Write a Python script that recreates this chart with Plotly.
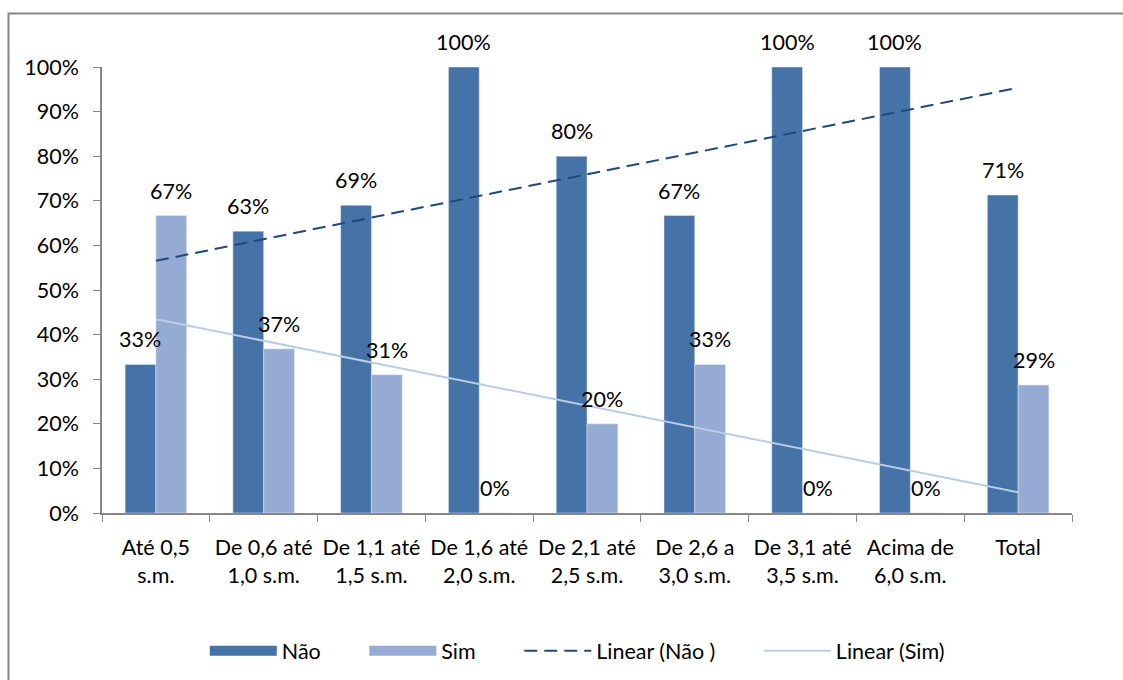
import numpy as np
import plotly.graph_objects as go

# Faixas de renda e percentuais por resposta
categorias = [
    "Até 0,5<br>s.m.",
    "De 0,6 até<br>1,0 s.m.",
    "De 1,1 até<br>1,5 s.m.",
    "De 1,6 até<br>2,0 s.m.",
    "De 2,1 até<br>2,5 s.m.",
    "De 2,6 a<br>3,0 s.m.",
    "De 3,1 até<br>3,5 s.m.",
    "Acima de<br>6,0 s.m.",
    "Total",
]
nao = [33.3, 63.2, 69.0, 100.0, 80.0, 66.7, 100.0, 100.0, 71.3]
sim = [66.7, 36.8, 31.0, 0.0, 20.0, 33.3, 0.0, 0.0, 28.7]
ticks_y = [0, 10, 20, 30, 40, 50, 60, 70, 80, 90, 100]

COR_NAO = "#4572A7"
COR_SIM = "#96ABD3"
COR_TEND_NAO = "#1F497D"
COR_TEND_SIM = "#B9CDE5"
FONTE = dict(family="Lato, 'Open Sans', sans-serif", size=21.5, color="#000000")

# Linhas de tendência lineares (mínimos quadrados)
xs = np.arange(len(categorias))
def tendencia(vals):
    a, b = np.polyfit(xs, vals, 1)
    return [a * xs[0] + b, a * xs[-1] + b]

fig = go.Figure()
fig.add_trace(go.Bar(x=categorias, y=nao, name="Não", marker=dict(color=COR_NAO), showlegend=False))
fig.add_trace(go.Bar(x=categorias, y=sim, name="Sim", marker=dict(color=COR_SIM), showlegend=False))

# Entradas de legenda em formato de faixa larga (espaços finais separam os itens)
ESP = "\u00a0" * 7
fig.add_trace(go.Scatter(x=[None], y=[None], mode="lines", name="Não" + ESP, line=dict(color=COR_NAO, width=13), legendrank=1))
fig.add_trace(go.Scatter(x=[None], y=[None], mode="lines", name="Sim" + ESP, line=dict(color=COR_SIM, width=13), legendrank=2))

fig.add_trace(go.Scatter(x=[categorias[0], categorias[-1]], y=tendencia(nao), mode="lines", name="Linear (Não )" + ESP,
                         line=dict(color=COR_TEND_NAO, width=2, dash="13px,7px"), legendrank=3))
fig.add_trace(go.Scatter(x=[categorias[0], categorias[-1]], y=tendencia(sim), mode="lines", name="Linear (Sim)",
                         line=dict(color=COR_TEND_SIM, width=2), legendrank=4))

# Rótulos de dados acima das barras
largura_cat = 970 / len(categorias)
meia_barra = largura_cat * (1 - 0.4286) / 4
anotacoes = []
for serie, desloc in ((nao, -meia_barra), (sim, meia_barra)):
    for c, v in zip(categorias, serie):
        anotacoes.append(dict(x=c, y=v, xref="x", yref="y", text=f"{round(v)}%", showarrow=False,
                              xshift=desloc, yshift=25, yanchor="middle", font=FONTE))

fig.update_layout(
    width=1123, height=680,
    margin=dict(l=102, r=51, t=67, b=167, autoexpand=False),
    paper_bgcolor="white", plot_bgcolor="white",
    barmode="group", bargap=0.4286, bargroupgap=0,
    font=FONTE,
    annotations=anotacoes,
    legend=dict(orientation="h", x=0.49, xanchor="center", yref="container", y=0.043, yanchor="middle",
                itemwidth=67, font=FONTE, traceorder="normal"),
    shapes=[dict(type="rect", xref="paper", yref="paper", x0=-0.0964, x1=1.3, y0=-0.6, y1=1.12,
                 line=dict(color="#868686", width=2), layer="below")],
)
fig.update_xaxes(showline=True, linecolor="#878787", linewidth=1.5, ticks="outside", tickson="boundaries",
                 ticklen=7, tickcolor="#878787", showgrid=False, tickfont=FONTE, ticklabelstandoff=14)
fig.update_yaxes(range=[0, 100], tickvals=ticks_y, ticktext=[f"{t}%" for t in ticks_y],
                 showline=True, linecolor="#878787", linewidth=1.5, ticks="outside", ticklen=7,
                 tickcolor="#878787", showgrid=False, zeroline=False, tickfont=FONTE, ticklabelstandoff=10)

fig.write_html("out.html")
